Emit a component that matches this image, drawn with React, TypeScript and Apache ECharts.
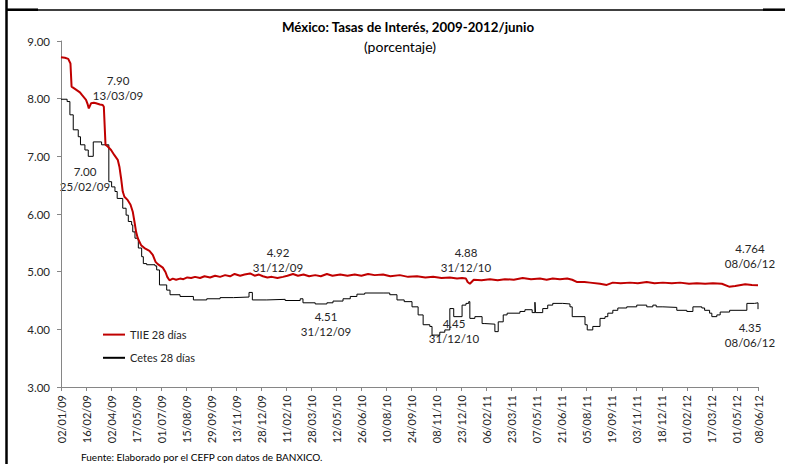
import React, { useEffect, useRef } from "react";
import * as echarts from "echarts";

const TITLE = "México: Tasas de Interés, 2009-2012/junio";
const SUBTITLE = "(porcentaje)";
const SOURCE = "Fuente: Elaborado por el CEFP con datos de BANXICO.";
const SERIES_NAMES = ["TIIE 28 días", "Cetes 28 días"];

const START_DATE = "2009-01-02";
const END_DATE = "2012-06-08";
const TICK_STEP_DAYS = 45;
const Y_MIN = 3;
const Y_MAX = 9;

const tiieDates = [
  "2009-01-02","2009-01-09","2009-01-15","2009-01-19","2009-01-21","2009-01-27","2009-02-05","2009-02-09","2009-02-16","2009-02-19",
  "2009-02-21","2009-02-25","2009-03-02","2009-03-06","2009-03-13","2009-03-18","2009-03-20","2009-03-23","2009-03-27","2009-04-02",
  "2009-04-08","2009-04-14","2009-04-17","2009-04-20","2009-04-23","2009-04-26","2009-05-02","2009-05-07","2009-05-11","2009-05-14",
  "2009-05-17","2009-05-20","2009-05-26","2009-06-01","2009-06-10","2009-06-16","2009-06-21","2009-06-25","2009-07-04","2009-07-09",
  "2009-07-12","2009-07-16","2009-07-22","2009-07-28","2009-08-04","2009-08-10","2009-08-17","2009-08-24","2009-08-31","2009-09-09",
  "2009-09-17","2009-09-27","2009-10-06","2009-10-15","2009-10-24","2009-11-02","2009-11-10","2009-11-20","2009-11-28","2009-12-08",
  "2009-12-16","2009-12-24","2009-12-31","2010-01-08","2010-01-16","2010-01-26","2010-02-05","2010-02-13","2010-02-23","2010-03-04",
  "2010-03-14","2010-03-24","2010-04-04","2010-04-14","2010-04-25","2010-05-05","2010-05-19","2010-06-01","2010-06-14","2010-06-26",
  "2010-07-08","2010-07-20","2010-08-04","2010-08-17","2010-09-03","2010-09-18","2010-10-04","2010-10-19","2010-11-02","2010-11-17",
  "2010-12-02","2010-12-15","2010-12-24","2010-12-31","2011-01-03","2011-01-07","2011-01-14","2011-01-28","2011-02-12","2011-02-26",
  "2011-03-11","2011-03-27","2011-04-12","2011-04-27","2011-05-13","2011-05-25","2011-06-05","2011-06-18","2011-07-01","2011-07-10",
  "2011-07-19","2011-08-01","2011-08-11","2011-08-29","2011-09-10","2011-09-21","2011-10-05","2011-10-22","2011-11-05","2011-11-21",
  "2011-12-05","2011-12-20","2012-01-05","2012-01-20","2012-02-05","2012-02-19","2012-03-05","2012-03-19","2012-04-04","2012-04-17",
  "2012-04-28","2012-05-16","2012-05-28","2012-06-08"
];
const tiieValues = [
  8.72,8.71,8.69,8.61,8.21,8.17,8.11,8.06,7.98,7.90,
  7.83,7.92,7.93,7.92,7.90,7.89,7.86,7.20,7.17,7.11,
  7.02,6.94,6.82,6.62,6.39,6.30,6.24,6.16,6.04,5.87,
  5.69,5.58,5.46,5.41,5.36,5.29,5.17,5.13,5.07,4.99,
  4.91,4.85,4.88,4.86,4.88,4.87,4.90,4.89,4.91,4.89,
  4.92,4.90,4.93,4.91,4.94,4.92,4.96,4.93,4.95,4.97,
  4.93,4.95,4.92,4.90,4.91,4.89,4.91,4.93,4.96,4.93,
  4.95,4.92,4.94,4.92,4.96,4.93,4.95,4.93,4.95,4.93,
  4.96,4.94,4.95,4.92,4.94,4.91,4.92,4.90,4.91,4.89,
  4.90,4.88,4.89,4.88,4.82,4.79,4.86,4.85,4.87,4.85,
  4.87,4.86,4.89,4.87,4.88,4.86,4.88,4.87,4.88,4.86,
  4.82,4.82,4.81,4.79,4.77,4.81,4.80,4.81,4.80,4.82,
  4.80,4.81,4.80,4.81,4.79,4.80,4.79,4.80,4.79,4.74,
  4.75,4.78,4.77,4.764
];

const cetesDates = [
  "2009-01-02","2009-01-13","2009-01-18","2009-01-24","2009-02-02","2009-02-06","2009-02-14","2009-02-20","2009-03-01","2009-03-16",
  "2009-03-29","2009-04-03","2009-04-09","2009-04-13","2009-04-23","2009-04-29","2009-05-03","2009-05-09","2009-05-11","2009-05-15",
  "2009-05-21","2009-05-27","2009-05-30","2009-06-05","2009-06-20","2009-06-23","2009-06-28","2009-07-11","2009-07-17","2009-08-04",
  "2009-08-28","2009-09-21","2009-10-15","2009-11-08","2009-12-06","2009-12-12","2010-01-07","2010-02-09","2010-03-08","2010-03-13",
  "2010-04-04","2010-04-25","2010-05-06","2010-05-24","2010-06-06","2010-06-18","2010-07-02","2010-08-04","2010-08-16","2010-08-29",
  "2010-09-11","2010-09-25","2010-10-06","2010-10-15","2010-10-27","2010-10-31","2010-11-14","2010-11-23","2010-12-02","2010-12-09",
  "2010-12-24","2010-12-31","2011-01-05","2011-01-07","2011-01-16","2011-01-29","2011-02-03","2011-02-21","2011-02-27","2011-03-08",
  "2011-03-15","2011-04-07","2011-04-16","2011-04-29","2011-05-04","2011-05-05","2011-05-18","2011-05-27","2011-06-05","2011-06-23",
  "2011-07-06","2011-07-10","2011-08-02","2011-08-06","2011-08-16","2011-08-29","2011-09-07","2011-09-12","2011-09-21","2011-09-30",
  "2011-10-16","2011-11-03","2011-11-21","2011-12-02","2011-12-08","2011-12-20","2012-01-14","2012-02-01","2012-02-12","2012-02-28",
  "2012-03-04","2012-03-13","2012-03-17","2012-03-26","2012-04-01","2012-04-18","2012-05-19","2012-06-02","2012-06-08"
];
const cetesValues = [
  7.99,7.95,7.72,7.46,7.34,7.20,7.11,7.00,7.25,7.20,
  6.56,6.47,6.39,6.27,6.10,5.98,5.87,5.81,5.69,5.58,
  5.41,5.26,5.14,5.12,5.10,5.03,4.77,4.68,4.60,4.57,
  4.51,4.53,4.55,4.56,4.64,4.51,4.52,4.50,4.53,4.46,
  4.44,4.46,4.49,4.53,4.57,4.61,4.63,4.63,4.60,4.51,
  4.48,4.39,4.25,4.08,4.05,3.90,3.95,3.99,4.36,4.22,
  4.42,4.45,4.48,4.19,4.22,4.10,4.09,3.96,4.13,4.25,
  4.28,4.31,4.34,4.29,4.47,4.29,4.36,4.42,4.45,4.44,
  4.39,4.22,4.08,3.99,4.05,4.19,4.22,4.28,4.33,4.37,
  4.39,4.42,4.39,4.42,4.39,4.38,4.33,4.31,4.39,4.37,
  4.33,4.28,4.22,4.25,4.30,4.33,4.45,4.46,4.35
];

const annotationLines = [
  ["7.90", "13/03/09"],
  ["7.00", "25/02/09"],
  ["4.92", "31/12/09"],
  ["4.51", "31/12/09"],
  ["4.88", "31/12/10"],
  ["4.45", "31/12/10"],
  ["4.764", "08/06/12"],
  ["4.35", "08/06/12"],
];
const annotationPos = [
  [118, 80], [85, 171], [278, 252], [326, 316], [466, 252], [454, 323], [750, 248], [750, 327],
];

const DAY_MS = 86400000;
const parseUTC = (s: string) => {
  const [y, m, d] = s.split("-").map(Number);
  return Date.UTC(y, m - 1, d);
};
const BASE = parseUTC(START_DATE);
const toDay = (s: string) => Math.round((parseUTC(s) - BASE) / DAY_MS);
const pad = (n: number) => (n < 10 ? "0" + n : "" + n);
const fmtDay = (v: number) => {
  const dt = new Date(BASE + Math.round(v) * DAY_MS);
  return pad(dt.getUTCDate()) + "/" + pad(dt.getUTCMonth() + 1) + "/" + pad(dt.getUTCFullYear() % 100);
};

const FONT = "Lato, 'Liberation Sans', sans-serif";
const TEXT_COLOR = "#262626";

export default function App() {
  const ref = useRef<HTMLDivElement>(null);
  useEffect(() => {
    if (!ref.current) return;
    const chart = echarts.init(ref.current, null, { renderer: "svg" });
    const tiieData = tiieDates.map((d, i) => [toDay(d), tiieValues[i]]);
    const cetesData = cetesDates.map((d, i) => [toDay(d), cetesValues[i]]);

    const graphics: any[] = [
      { type: "line", shape: { x1: 6.5, y1: 0, x2: 6.5, y2: 464 }, style: { stroke: "#000", lineWidth: 2.5 } },
      { type: "line", shape: { x1: 6, y1: 10, x2: 763, y2: 10 }, style: { stroke: "#000", lineWidth: 1.5 } },
      { type: "line", shape: { x1: 6, y1: 9.7, x2: 38, y2: 9.7 }, style: { stroke: "#000", lineWidth: 2.5 } },
      { type: "line", shape: { x1: 763, y1: 9.7, x2: 785, y2: 9.7 }, style: { stroke: "#000", lineWidth: 2.5 } },
      {
        type: "text", x: 408, y: 27,
        style: { text: TITLE, font: "bold 13.3px " + FONT, fill: "#000", align: "center", verticalAlign: "middle" },
      },
      {
        type: "text", x: 400, y: 46,
        style: { text: SUBTITLE, font: "14px " + FONT, fill: "#000", align: "center", verticalAlign: "middle" },
      },
      {
        type: "text", x: 81, y: 457,
        style: { text: SOURCE, font: "10px " + FONT, fill: "#000", align: "left", verticalAlign: "middle" },
      },
    ];
    annotationLines.forEach((lines, i) => {
      const [x, y] = annotationPos[i];
      lines.forEach((t, j) => {
        graphics.push({
          type: "text", x, y: y + j * 15,
          style: { text: t, font: "11.5px " + FONT, fill: TEXT_COLOR, align: "center", verticalAlign: "middle" },
        });
      });
    });

    chart.setOption({
      animation: false,
      backgroundColor: "#fff",
      grid: { left: 61, right: 27, top: 41, bottom: 77, containLabel: false },
      legend: {
        data: SERIES_NAMES,
        orient: "vertical",
        left: 102,
        top: 329,
        padding: 0,
        itemWidth: 22,
        itemHeight: 14,
        itemGap: 12,
        itemStyle: { opacity: 0 },
        textStyle: { fontFamily: FONT, fontSize: 11, color: TEXT_COLOR },
      },
      xAxis: {
        type: "value",
        min: 0,
        max: toDay(END_DATE),
        interval: TICK_STEP_DAYS,
        splitLine: { show: false },
        axisLine: { lineStyle: { color: "#868686", width: 1 } },
        axisTick: { show: true, length: 4, inside: false, lineStyle: { color: "#868686" } },
        axisLabel: {
          rotate: 90,
          margin: 8,
          formatter: (v: number) => fmtDay(v),
          fontFamily: FONT,
          fontSize: 11,
          color: TEXT_COLOR,
          showMinLabel: true,
          showMaxLabel: true,
        },
      },
      yAxis: {
        type: "value",
        min: Y_MIN,
        max: Y_MAX,
        interval: 1,
        splitLine: { show: false },
        axisLine: { show: true, lineStyle: { color: "#868686", width: 1 } },
        axisTick: { show: true, length: 4, inside: false, lineStyle: { color: "#868686" } },
        axisLabel: {
          margin: 11,
          formatter: (v: number) => v.toFixed(2),
          fontFamily: FONT,
          fontSize: 11.5,
          color: TEXT_COLOR,
        },
      },
      series: [
        {
          name: SERIES_NAMES[0],
          type: "line",
          data: tiieData,
          symbol: "none",
          lineStyle: { color: "#C00000", width: 2 },
          itemStyle: { color: "#C00000" },
          z: 3,
        },
        {
          name: SERIES_NAMES[1],
          type: "line",
          data: cetesData,
          step: "end",
          symbol: "none",
          lineStyle: { color: "#000", width: 1 },
          itemStyle: { color: "#000" },
          z: 2,
        },
      ],
      graphic: graphics,
    });
    return () => chart.dispose();
  }, []);
  return (
    <div
      ref={ref}
      style={{ position: "fixed", left: 0, top: 0, width: 785, height: 464, background: "#fff" }}
    />
  );
}
